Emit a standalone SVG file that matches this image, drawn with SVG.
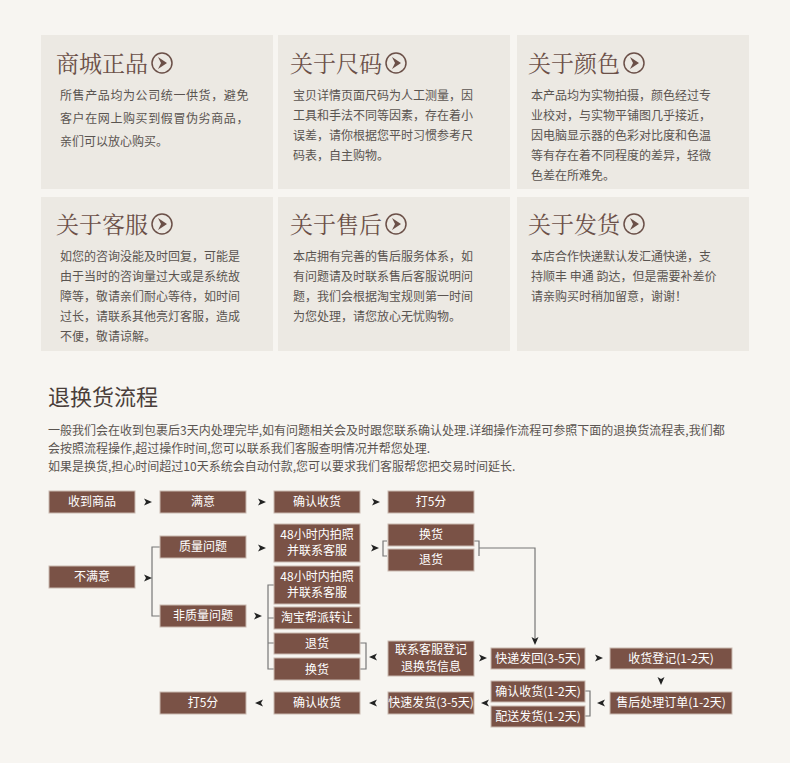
<svg xmlns="http://www.w3.org/2000/svg" width="790" height="763" viewBox="0 0 790 763">
<defs>
<style>
.card{fill:#ece9e3}
.h{font-family:"Noto Serif CJK SC","Noto Sans CJK SC",serif;font-size:23px;fill:#6b5048}
.t{font-family:"Noto Sans CJK SC",sans-serif;font-size:12px;fill:#5a5450}
.b{fill:#7a5246;stroke:#c9b9b0;stroke-width:1}
.bt{font-family:"Noto Sans CJK SC",sans-serif;font-size:12px;fill:#fff;text-anchor:middle}
.ln{fill:none;stroke:#777;stroke-width:1.2}
.ah{fill:#222}
.ic{fill:none;stroke:#6b5048;stroke-width:1.5}
</style>
<g id="icon"><circle class="ic" cx="0" cy="0" r="10"/><path d="M-4,-6 L5,0 L-4,6 L-1,0 Z" fill="#6b5048"/></g>
<path id="ar" d="M-4,-3.5 L4,0 L-4,3.5 L-2,0 Z"/>
</defs>
<rect width="790" height="763" fill="#f7f5f1"/>
<g id="cards">
<g id="c1"><rect class="card" x="41" y="35" width="232" height="154"/><text class="h" x="56" y="72">商城正品</text><use href="#icon" x="162" y="63"/>
<text class="t" x="60" y="100" letter-spacing="0.6">所售产品均为公司统一供货，避免</text><text class="t" x="60" y="123" letter-spacing="0.6">客户在网上购买到假冒伪劣商品，</text><text class="t" x="60" y="146">亲们可以放心购买。</text></g>
<g id="c2"><rect class="card" x="278" y="35" width="232" height="154"/><text class="h" x="290" y="72">关于尺码</text><use href="#icon" x="396" y="63"/>
<text class="t" x="293" y="100">宝贝详情页面尺码为人工测量，因</text><text class="t" x="293" y="120">工具和手法不同等因素，存在着小</text><text class="t" x="293" y="140">误差，请你根据您平时习惯参考尺</text><text class="t" x="293" y="160">码表，自主购物。</text></g>
<g id="c3"><rect class="card" x="517" y="35" width="232" height="154"/><text class="h" x="528" y="72">关于颜色</text><use href="#icon" x="634" y="63"/>
<text class="t" x="531" y="100">本产品均为实物拍摄，颜色经过专</text><text class="t" x="531" y="120">业校对，与实物平铺图几乎接近，</text><text class="t" x="531" y="140">因电脑显示器的色彩对比度和色温</text><text class="t" x="531" y="160">等有存在着不同程度的差异，轻微</text><text class="t" x="531" y="180">色差在所难免。</text></g>
<g id="c4"><rect class="card" x="41" y="197" width="232" height="154"/><text class="h" x="56" y="233">关于客服</text><use href="#icon" x="162" y="224"/>
<text class="t" x="60" y="261">如您的咨询没能及时回复，可能是</text><text class="t" x="60" y="281">由于当时的咨询量过大或是系统故</text><text class="t" x="60" y="301">障等，敬请亲们耐心等待，如时间</text><text class="t" x="60" y="321">过长，请联系其他亮灯客服，造成</text><text class="t" x="60" y="341">不便，敬请谅解。</text></g>
<g id="c5"><rect class="card" x="278" y="197" width="232" height="154"/><text class="h" x="290" y="233">关于售后</text><use href="#icon" x="396" y="224"/>
<text class="t" x="293" y="261">本店拥有完善的售后服务体系，如</text><text class="t" x="293" y="281">有问题请及时联系售后客服说明问</text><text class="t" x="293" y="301">题，我们会根据淘宝规则第一时间</text><text class="t" x="293" y="321">为您处理，请您放心无忧购物。</text></g>
<g id="c6"><rect class="card" x="517" y="197" width="232" height="154"/><text class="h" x="528" y="233">关于发货</text><use href="#icon" x="634" y="224"/>
<text class="t" x="531" y="261">本店合作快递默认发汇通快递，支</text><text class="t" x="531" y="281">持顺丰 申通 韵达，但是需要补差价</text><text class="t" x="531" y="301">请亲购买时稍加留意，谢谢！</text></g>
</g>
<text x="48" y="405" font-family="Noto Sans CJK SC,sans-serif" font-size="22" fill="#4a3e3a">退换货流程</text>
<text class="t" x="48" y="435" font-size="11">一般我们会在收到包裹后3天内处理完毕,如有问题相关会及时跟您联系确认处理.详细操作流程可参照下面的退换货流程表,我们都</text>
<text class="t" x="48" y="453" font-size="11">会按照流程操作,超过操作时间,您可以联系我们客服查明情况并帮您处理.</text>
<text class="t" x="48" y="471" font-size="11">如果是换货,担心时间超过10天系统会自动付款,您可以要求我们客服帮您把交易时间延长.</text>
<g id="connectors">
<path class="ln" d="M160,547 H152 V616 H160 M274,585 H268 V669 H274 M268,618 H274 M268,643 H274 M387,541 H383 V556 H387 M474,541 H479 V556 H479 M479,548 H535 V640 M360,643 H366 V669 H360 M585,691 H590 V716 H585"/>
<g class="ah">
<use href="#ar" x="148" y="502"/><use href="#ar" x="262" y="502"/><use href="#ar" x="376" y="502"/>
<use href="#ar" x="148" y="578"/><use href="#ar" x="262" y="548"/><use href="#ar" x="258" y="616"/><use href="#ar" x="375" y="548"/>
<use href="#ar" transform="translate(535,641) rotate(90)"/>
<use href="#ar" transform="translate(373,657) rotate(180)"/>
<use href="#ar" x="483" y="658"/><use href="#ar" x="599" y="658"/>
<use href="#ar" transform="translate(661,681) rotate(90)"/>
<use href="#ar" transform="translate(601,703) rotate(180)"/>
<use href="#ar" transform="translate(485,703) rotate(180)"/>
<use href="#ar" transform="translate(373,703) rotate(180)"/>
<use href="#ar" transform="translate(259,703) rotate(180)"/>
</g>
</g>
<g id="n1"><rect class="b" x="49" y="491" width="86" height="22"/><text class="bt" x="92" y="506">收到商品</text></g>
<g id="n2"><rect class="b" x="160" y="491" width="86" height="22"/><text class="bt" x="203" y="506">满意</text></g>
<g id="n3"><rect class="b" x="274" y="491" width="86" height="22"/><text class="bt" x="317" y="506">确认收货</text></g>
<g id="n4"><rect class="b" x="388" y="491" width="86" height="22"/><text class="bt" x="431" y="506">打5分</text></g>
<g id="n5"><rect class="b" x="160" y="536" width="86" height="22"/><text class="bt" x="203" y="551">质量问题</text></g>
<g id="n6"><rect class="b" x="274" y="524" width="86" height="38"/><text class="bt" x="317" y="539">48小时内拍照</text><text class="bt" x="317" y="555">并联系客服</text></g>
<g id="n7"><rect class="b" x="388" y="524" width="86" height="22"/><text class="bt" x="431" y="539">换货</text></g>
<g id="n8"><rect class="b" x="388" y="549" width="86" height="22"/><text class="bt" x="431" y="564">退货</text></g>
<g id="n9"><rect class="b" x="49" y="566" width="86" height="22"/><text class="bt" x="92" y="581">不满意</text></g>
<g id="n10"><rect class="b" x="274" y="566" width="86" height="38"/><text class="bt" x="317" y="581">48小时内拍照</text><text class="bt" x="317" y="597">并联系客服</text></g>
<g id="n11"><rect class="b" x="160" y="605" width="86" height="22"/><text class="bt" x="203" y="620">非质量问题</text></g>
<g id="n12"><rect class="b" x="274" y="607" width="86" height="22"/><text class="bt" x="317" y="622">淘宝帮派转让</text></g>
<g id="n13"><rect class="b" x="274" y="633" width="86" height="21"/><text class="bt" x="317" y="648">退货</text></g>
<g id="n14"><rect class="b" x="274" y="658" width="86" height="22"/><text class="bt" x="317" y="674">换货</text></g>
<g id="n15"><rect class="b" x="388" y="641" width="86" height="35"/><text class="bt" x="431" y="654" font-size="11">联系客服登记</text><text class="bt" x="431" y="671" font-size="11">退换货信息</text></g>
<g id="n16"><rect class="b" x="491" y="648" width="94" height="21"/><text class="bt" x="538" y="663">快递发回(3-5天)</text></g>
<g id="n17"><rect class="b" x="610" y="648" width="122" height="21"/><text class="bt" x="671" y="663">收货登记(1-2天)</text></g>
<g id="n18"><rect class="b" x="160" y="692" width="86" height="22"/><text class="bt" x="203" y="707">打5分</text></g>
<g id="n19"><rect class="b" x="274" y="692" width="86" height="22"/><text class="bt" x="317" y="707">确认收货</text></g>
<g id="n20"><rect class="b" x="388" y="692" width="86" height="22"/><text class="bt" x="431" y="707">快速发货(3-5天)</text></g>
<g id="n21"><rect class="b" x="491" y="681" width="94" height="21"/><text class="bt" x="538" y="696">确认收货(1-2天)</text></g>
<g id="n22"><rect class="b" x="491" y="706" width="94" height="21"/><text class="bt" x="538" y="721">配送发货(1-2天)</text></g>
<g id="n23"><rect class="b" x="610" y="692" width="122" height="22"/><text class="bt" x="671" y="707">售后处理订单(1-2天)</text></g>
</svg>
